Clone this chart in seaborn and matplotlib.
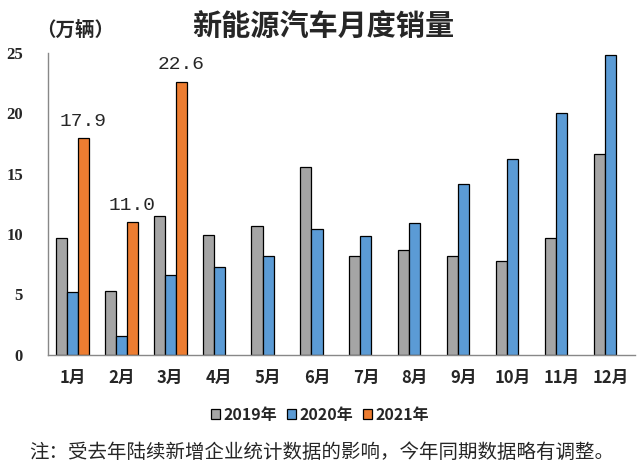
import matplotlib
matplotlib.use('Agg')
import matplotlib.pyplot as plt
import seaborn as sns
import pandas as pd

months = ['1月', '2月', '3月', '4月', '5月', '6月', '7月', '8月', '9月', '10月', '11月', '12月']
years = ['2019年', '2020年', '2021年']
sales_2019 = [9.7, 5.3, 11.5, 9.9, 10.7, 15.5, 8.2, 8.7, 8.2, 7.8, 9.7, 16.6]
sales_2020 = [5.2, 1.6, 6.6, 7.3, 8.2, 10.4, 9.8, 10.9, 14.1, 16.2, 20.0, 24.8]
sales_2021 = [17.9, 11.0, 22.6]
colors = ['#A5A5A5', '#5B9BD5', '#ED7D31']

rows = []
for m, v in zip(months, sales_2019):
    rows.append((m, years[0], v))
for m, v in zip(months, sales_2020):
    rows.append((m, years[1], v))
for m, v in zip(months, sales_2021):
    rows.append((m, years[2], v))
df = pd.DataFrame(rows, columns=['月份', '年份', '销量'])

sns.set_style('white')
plt.rcParams['font.family'] = ['Noto Sans CJK SC', 'DejaVu Sans']

fig = plt.figure(figsize=(6.4, 4.7), dpi=100)
ax = fig.add_axes([0.075, 0.245, 0.917, 0.643])
sns.barplot(data=df, x='月份', y='销量', hue='年份', order=months, hue_order=years,
            palette=colors, width=0.68, edgecolor='black', linewidth=0.9,
            saturation=1, ax=ax, legend=True)

ax.set_ylim(0, 25)
ax.set_xlim(-0.5, 11.5)
ax.set_yticks([0, 5, 10, 15, 20, 25])
ax.set_xlabel('')
ax.set_ylabel('')
ax.tick_params(axis='both', length=0, labelsize=12)
ax.tick_params(axis='x', pad=10)
for lab in ax.get_yticklabels():
    lab.set_fontweight('bold')
    lab.set_family(['Liberation Serif', 'DejaVu Serif'])
for lab in ax.get_xticklabels():
    lab.set_fontweight('bold')
ax.tick_params(axis='y', pad=18)
for s in ['top', 'right']:
    ax.spines[s].set_visible(False)
for s in ['left', 'bottom']:
    ax.spines[s].set_color('#888888')
    ax.spines[s].set_linewidth(1)

labels = ax.bar_label(ax.containers[2], fmt='%.1f', padding=6, fontsize=14,
                      family=['Liberation Mono', 'DejaVu Sans Mono'])
labels[1].set_bbox(dict(facecolor='white', edgecolor='none', alpha=0.6, pad=0.5))

handles, _ = ax.get_legend_handles_labels()
ax.get_legend().remove()
fig.legend(handles, years, loc='center', bbox_to_anchor=(0.5, 0.117), ncol=3,
           frameon=False, handlelength=0.6, handleheight=0.6,
           handletextpad=0.2, columnspacing=0.6, prop={'weight': 'bold', 'size': 11.5})

fig.text(0.505, 0.945, '新能源汽车月度销量', ha='center', va='center', fontsize=21, fontweight='bold')
fig.text(0.118, 0.935, '（万辆）', ha='center', va='center', fontsize=14, fontweight='bold')
fig.text(0.503, 0.038, '注：受去年陆续新增企业统计数据的影响，今年同期数据略有调整。',
         ha='center', va='center', fontsize=14)

fig.savefig('out.png', dpi=100)
plt.close(fig)
